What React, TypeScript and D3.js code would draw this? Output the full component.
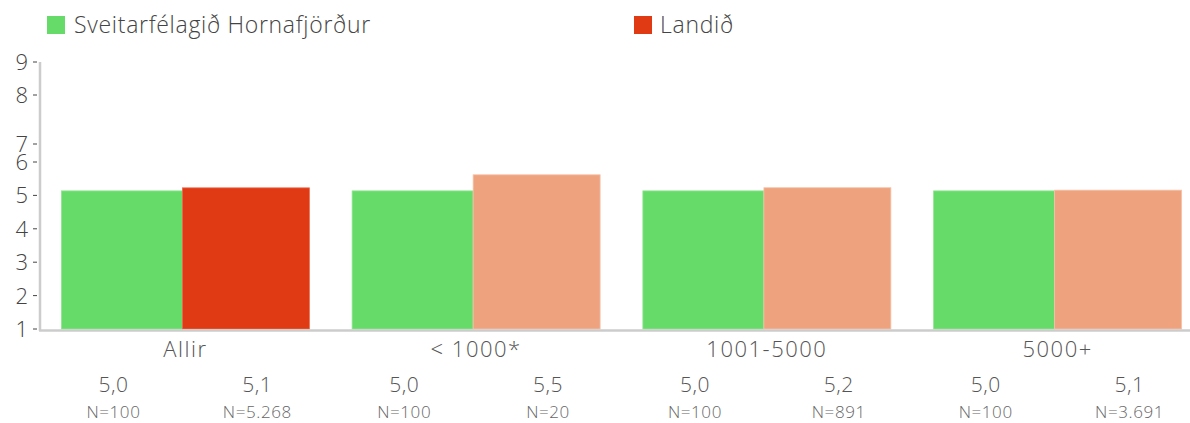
import React from "react";
import * as d3 from "d3";

const categories = ["Allir", "< 1000*", "1001-5000", "5000+"];
const seriesNames = ["Sveitarfélagið Hornafjörður", "Landið"];
const localValues = [5.135, 5.135, 5.135, 5.135];
const countryValues = [5.226, 5.617, 5.23, 5.157];
const localLabels = ["5,0", "5,0", "5,0", "5,0"];
const countryLabels = ["5,1", "5,5", "5,2", "5,1"];
const localN = ["N=100", "N=100", "N=100", "N=100"];
const countryN = ["N=5.268", "N=20", "N=891", "N=3.691"];
const yTicks = [1, 2, 3, 4, 5, 6, 7, 8, 9];
const yTickDomain = [1, 6, 7, 8, 9];

const W = 1190;
const H = 423;
const GREEN = "#67db6a";
const RED = "#df3a14";
const SALMON = "#eea27e";
const FONT = "'Open Sans', Lato, sans-serif";

export default function App() {
  const y = d3.scaleLinear().domain(yTickDomain).range([329, 162, 144, 95, 62]);
  const x = d3
    .scaleBand<string>()
    .domain(categories)
    .range([40, 1203])
    .paddingInner(0.147)
    .paddingOuter(0.0735);
  const bw = x.bandwidth();
  const split = 0.488;
  const base = y(1);
  const labelOff = bw * 0.29;

  return (
    <svg
      width={W}
      height={H}
      style={{ position: "absolute", left: 0, top: 0, fontFamily: FONT, fontWeight: 300 }}
    >
      {/* legend */}
      <rect x={47} y={16} width={18} height={18} fill={GREEN} />
      <text x={74} y={33} fontSize={23} fill="#444" letterSpacing={0.7}>
        {seriesNames[0]}
      </text>
      <rect x={634} y={16} width={18} height={18} fill={RED} />
      <text x={660} y={33} fontSize={23} fill="#444" letterSpacing={0.7}>
        {seriesNames[1]}
      </text>

      {/* bars */}
      {categories.map((c, i) => {
        const x0 = x(c)!;
        const w1 = bw * split;
        const cx = x0 + bw / 2;
        return (
          <g key={c}>
            <rect
              x={x0}
              y={y(localValues[i])}
              width={w1}
              height={base - y(localValues[i])}
              fill={GREEN}
              stroke="#8fe692"
              strokeWidth={0.8}
            />
            <rect
              x={x0 + w1}
              y={y(countryValues[i])}
              width={bw - w1}
              height={base - y(countryValues[i])}
              fill={i === 0 ? RED : SALMON}
              stroke={i === 0 ? "#ee6a4c" : "#f6c3aa"}
              strokeWidth={0.8}
            />
            <text x={cx} y={357} fontSize={22} fill="#555" textAnchor="middle" letterSpacing={1.5}>
              {c}
            </text>
            <text x={cx - labelOff} y={392} fontSize={21} fill="#555" textAnchor="middle" letterSpacing={0.5}>
              {localLabels[i]}
            </text>
            <text x={cx + labelOff} y={392} fontSize={21} fill="#555" textAnchor="middle" letterSpacing={0.5}>
              {countryLabels[i]}
            </text>
            <text x={cx - labelOff} y={418} fontSize={17} fill="#666" textAnchor="middle" letterSpacing={0.6}>
              {localN[i]}
            </text>
            <text x={cx + labelOff} y={418} fontSize={17} fill="#666" textAnchor="middle" letterSpacing={0.6}>
              {countryN[i]}
            </text>
          </g>
        );
      })}

      {/* axes */}
      <line x1={40} x2={40} y1={62} y2={331} stroke="#cccccc" strokeWidth={2.5} />
      <line x1={39} x2={W} y1={330.5} y2={330.5} stroke="#cccccc" strokeWidth={2.5} />
      {yTicks.map((t) => (
        <g key={t}>
          <line x1={33} x2={37} y1={y(t)} y2={y(t)} stroke="#444" strokeWidth={1} />
          <text x={28} y={y(t)} dy="0.36em" fontSize={22} fill="#444" textAnchor="end">
            {t}
          </text>
        </g>
      ))}
    </svg>
  );
}
